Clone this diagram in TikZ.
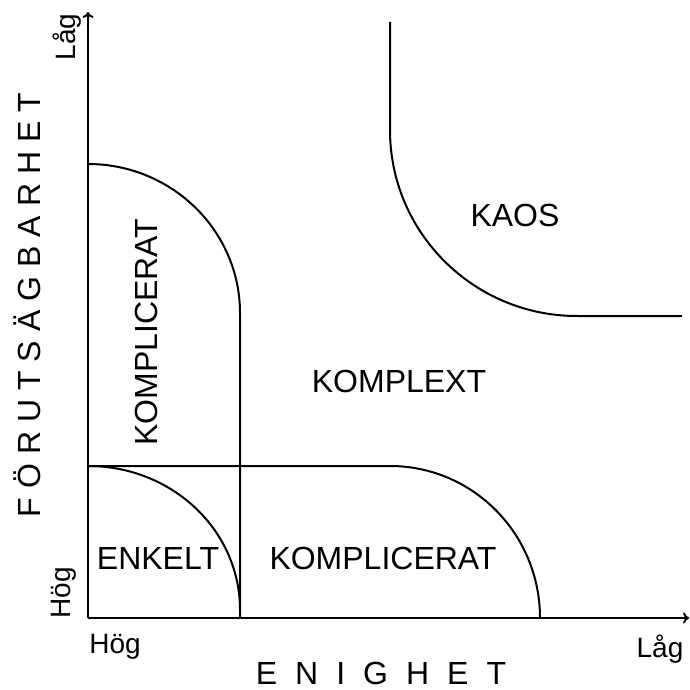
\documentclass[tikz,border=0pt]{standalone}
\usepackage{fontspec}
\setmainfont{Liberation Sans}
\usetikzlibrary{arrows.meta}
\newcommand{\gp}{\hspace{18pt}}
\newcommand{\gq}{\hspace{9pt}}
\tikzset{
  line/.style={line width=2pt, line join=round},
  axis/.style={line width=2pt, -{To[length=6pt,width=11pt]}},
  big/.style={font=\fontsize{32}{36}\selectfont, inner sep=0pt},
  small/.style={font=\fontsize{28}{32}\selectfont, inner sep=0pt},
}
\begin{document}
\begin{tikzpicture}[x=1pt,y=-1pt]
\useasboundingbox (0,0) rectangle (690,690);
\fill[white] (0,0) rectangle (690,690);
% axes
\coordinate (O) at (88,618);
\coordinate (Ytop) at (88,12);
\coordinate (Xend) at (689,618);
\draw[axis] (O) -- (Ytop);
\draw[axis] (O) -- (Xend);
% upper KOMPLICERAT boundary
\draw[line] (88,164) .. controls (172,164) and (240,231) .. (240,313) -- (240,618);
% ENKELT boundary
\draw[line] (88,466) .. controls (172,466) and (240,530) .. (240,610);
% lower KOMPLICERAT boundary
\draw[line] (88,466) -- (390,466) .. controls (473,466) and (540,534) .. (540,618);
% KAOS boundary
\draw[line] (390,22) -- (390,130) .. controls (390,233) and (474,316) .. (577,316) -- (682,316);
% labels
\node[big] (kaos) at (515,215) {KAOS};
\node[big] (komplext) at (399,381) {KOMPLEXT};
\node[big] (enkelt) at (158,558) {ENKELT};
\node[big] (komp2) at (383,558) {KOMPLICERAT};
\node[big, rotate=90, anchor=base] (komp1) at (157,332) {KOMPLICERAT};
\node[small, anchor=base] (hogx) at (115,653) {Hög};
\node[small, anchor=base] (lagx) at (660,657) {Låg};
\node[small, rotate=90, anchor=base] (hogy) at (70,593) {Hög};
\node[small, rotate=90, anchor=base] (lagy) at (75,37) {Låg};
\node[big, anchor=base] (enighet) at (381,684) {E\gp N\gp I\gp G\gp H\gp E\gp T};
\node[big, rotate=90, anchor=base] (forut) at (40,305) {F\gq Ö\gq R\gq U\gq T\gq S\gq Ä\gq G\gq B\gq A\gq R\gq H\gq E\gq T};
\end{tikzpicture}
\end{document}
